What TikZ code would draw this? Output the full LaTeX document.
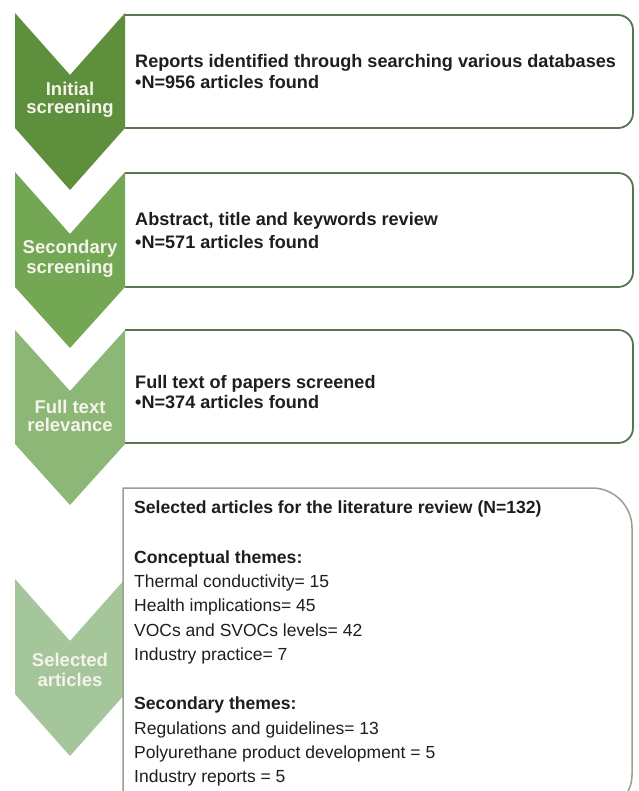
\documentclass[tikz,border=0pt]{standalone}
\usepackage{fontspec}
\setmainfont{Liberation Sans}
\definecolor{chA}{HTML}{5E8F3C}
\definecolor{chB}{HTML}{74A753}
\definecolor{chC}{HTML}{8DB776}
\definecolor{chD}{HTML}{A5C59A}
\definecolor{boxc}{HTML}{5B7553}
\definecolor{boxd}{HTML}{94A28E}
\definecolor{labc}{HTML}{F4F4EA}
\definecolor{txtc}{HTML}{1E1E1E}
\begin{document}
\begin{tikzpicture}[x=1pt,y=-1pt,
  box/.style={draw=boxc, line width=1.8pt},
  lastbox/.style={draw=boxd, line width=1.5pt, fill=white},
  lab/.style={font=\fontsize{18.5}{19}\selectfont\bfseries, text=labc, inner sep=0, anchor=base},
  txtb/.style={font=\fontsize{18.1}{21}\selectfont\bfseries, text=txtc, inner sep=0, anchor=base west},
  txtc/.style={font=\fontsize{17.6}{21}\selectfont\bfseries, text=txtc, inner sep=0, anchor=base west},
  txt/.style={font=\fontsize{17.5}{21}\selectfont, text=txtc, inner sep=0, anchor=base west}]
\useasboundingbox (0,0) rectangle (638,791);
\clip (0,0) rectangle (638,791);
\fill[white] (0,0) rectangle (638,791);

% boxes 1-3 (right corners rounded)
\draw[box] (125,15) -- (618,15) .. controls (626.3,15) and (633,21.7) .. (633,30)
  -- (633,113) .. controls (633,121.3) and (626.3,128) .. (618,128) -- (125,128);
\draw[box] (125,173) -- (618,173) .. controls (626.3,173) and (633,179.7) .. (633,188)
  -- (633,272) .. controls (633,280.3) and (626.3,287) .. (618,287) -- (125,287);
\draw[box] (125,330) -- (618,330) .. controls (626.3,330) and (633,336.7) .. (633,345)
  -- (633,428) .. controls (633,436.3) and (626.3,443) .. (618,443) -- (125,443);

% chevrons
\fill[chA] (15,13) -- (70,75) -- (125,13) -- (125,128) -- (70,190) -- (15,128) -- cycle;
\fill[chB] (15,172) -- (70,234) -- (125,172) -- (125,287) -- (70,348) -- (15,287) -- cycle;
\fill[chC] (15,330) -- (70,391) -- (125,330) -- (125,444) -- (70,505) -- (15,444) -- cycle;
\fill[chD] (15,579) -- (70,641) -- (125,579) -- (125,694) -- (70,756) -- (15,694) -- cycle;

% box 4
\draw[lastbox] (123,810) -- (123,488) -- (592,488) .. controls (614.1,488) and (632,505.9) .. (632,528)
  -- (632,775) .. controls (632,794.3) and (616.3,810) .. (597,810) -- cycle;

% chevron labels
\node[lab] (l1a) at (70,96) {Initial};
\node[lab] (l1b) at (70,114) {screening};
\node[lab] (l2a) at (70,254) {Secondary};
\node[lab] (l2b) at (70,273) {screening};
\node[lab] (l3a) at (70,413) {Full text};
\node[lab] (l3b) at (70,431) {relevance};
\node[lab] (l4a) at (70,666) {Selected};
\node[lab] (l4b) at (70,686) {articles};

% box texts
\node[txtb] (t1a) at (135,68) {Reports identified through searching various databases};
\node[txtb] (t1b) at (135,89) {•N=956 articles found};
\node[txtb] (t2a) at (135,226) {Abstract, title and keywords review};
\node[txtb] (t2b) at (135,248) {•N=571 articles found};
\node[txtb] (t3a) at (135,388) {Full text of papers screened};
\node[txtb] (t3b) at (135,408) {•N=374 articles found};

\node[txtc] (t4a) at (134,513) {Selected articles for the literature review (N=132)};
\node[txtc] (t4b) at (134,563) {Conceptual themes:};
\node[txt] (t4c) at (134,587) {Thermal conductivity= 15};
\node[txt] (t4d) at (134,611) {Health implications= 45};
\node[txt] (t4e) at (134,636) {VOCs and SVOCs levels= 42};
\node[txt] (t4f) at (134,660) {Industry practice= 7};
\node[txtc] (t4g) at (134,709) {Secondary themes:};
\node[txt] (t4h) at (134,734) {Regulations and guidelines= 13};
\node[txt] (t4i) at (134,758) {Polyurethane product development = 5};
\node[txt] (t4j) at (134,782) {Industry reports = 5};
\end{tikzpicture}
\end{document}
